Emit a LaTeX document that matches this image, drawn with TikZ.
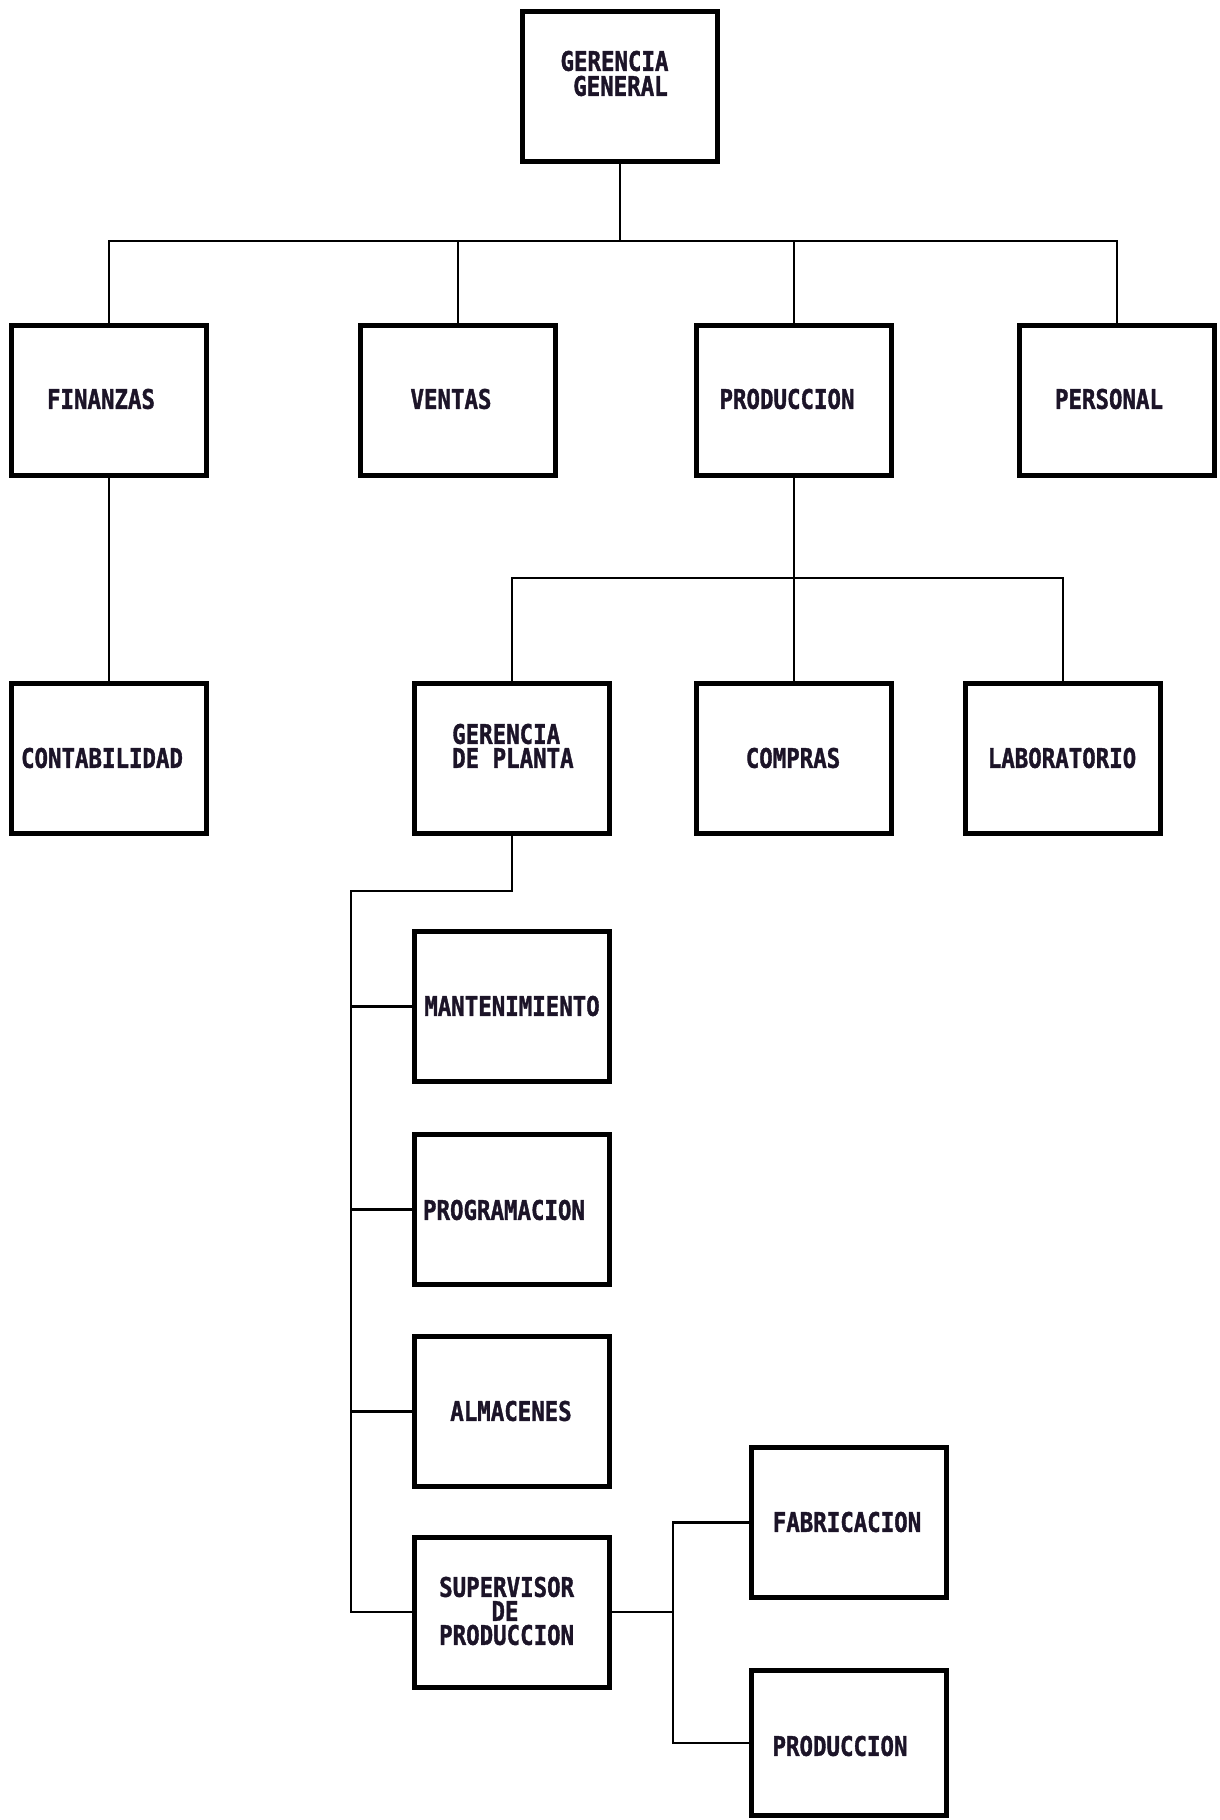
\documentclass[tikz,border=0pt]{standalone}
\usepackage{fontspec}
\newfontfamily\dotfont[FakeStretch=0.83, BoldFeatures={FakeBold=1.3}]{DejaVu Sans Mono}
\begin{document}
\begin{tikzpicture}[x=1pt,y=-1pt,
  box/.style={draw=black, line width=5pt, fill=white, minimum width=195pt,
    minimum height=150pt, inner sep=0pt},
  lbl/.style={font=\dotfont\bfseries\fontsize{27}{27}\selectfont, text=ink,
    inner sep=0pt},
  link/.style={draw=black, line width=2.5pt}]
\definecolor{ink}{HTML}{1C1428}
\useasboundingbox[fill=white] (0,0) rectangle (1220,1820);

% boxes
\node[box] (gg)    at (620,86.5)   {};
\node[box] (fin)   at (109,400)    {};
\node[box] (ven)   at (458,400)    {};
\node[box] (prod)  at (794,400)    {};
\node[box] (pers)  at (1117,400)   {};
\node[box] (cont)  at (109,758.5)  {};
\node[box] (gdp)   at (512,758.5)  {};
\node[box] (comp)  at (794,758.5)  {};
\node[box] (lab)   at (1063,758.5) {};
\node[box] (mant)  at (512,1006.5) {};
\node[box] (prog)  at (512,1209.5) {};
\node[box] (alm)   at (512,1411.5) {};
\node[box] (sup)   at (512,1612)   {};
\node[box] (fab)   at (848.5,1522.5) {};
\node[box, minimum height=145pt] (prodb) at (848.5,1743) {};

% labels
\node[lbl] (tgg1) at (614.5,61) {GERENCIA};
\node[lbl] (tgg2) at (620.5,86) {GENERAL};
\node[lbl] (tfin) at (101,399)  {FINANZAS};
\node[lbl] (tven) at (451,399)  {VENTAS};
\node[lbl] (tpro) at (787,399)  {PRODUCCION};
\node[lbl] (tper) at (1109,399) {PERSONAL};
\node[lbl] (tcon) at (102,758)  {CONTABILIDAD};
\node[lbl, anchor=west] (tgd1) at (452,734) {GERENCIA};
\node[lbl, anchor=west] (tgd2) at (452,758) {DE PLANTA};
\node[lbl] (tcom) at (793,758)  {COMPRAS};
\node[lbl] (tlab) at (1062,758) {LABORATORIO};
\node[lbl] (tman) at (512,1006) {MANTENIMIENTO};
\node[lbl] (tprg) at (504,1210) {PROGRAMACION};
\node[lbl] (talm) at (511,1411) {ALMACENES};
\node[lbl, anchor=west] (tsu1) at (439,1587) {SUPERVISOR};
\node[lbl] (tsu2) at (505,1611) {DE};
\node[lbl, anchor=west] (tsu3) at (439,1635) {PRODUCCION};
\node[lbl] (tfab) at (847,1522) {FABRICACION};
\node[lbl] (tprb) at (840,1746) {PRODUCCION};

% bus levels
\coordinate (topbus) at (0,241);
\coordinate (midbus) at (0,578);
\coordinate (spine)  at (351,891);
\coordinate (fork)   at (673,1612);

% top level
\draw[link] (gg.south) -- (gg.south |- topbus);
\draw[link] (fin.north) -- (fin.north |- topbus) -- (pers.north |- topbus) -- (pers.north);
\draw[link] (ven.north) -- (ven.north |- topbus);
\draw[link] (prod.north) -- (prod.north |- topbus);

% finanzas
\draw[link] (fin.south) -- (cont.north);

% produccion
\draw[link] (prod.south) -- (prod.south |- midbus);
\draw[link] (gdp.north) -- (gdp.north |- midbus) -- (lab.north |- midbus) -- (lab.north);
\draw[link] (comp.north) -- (comp.north |- midbus);

% gerencia de planta
\draw[link] (gdp.south) |- (spine) -- (spine |- sup.west) -- (sup.west);
\draw[link] (spine |- mant.west) -- (mant.west);
\draw[link] (spine |- prog.west) -- (prog.west);
\draw[link] (spine |- alm.west) -- (alm.west);

% supervisor
\draw[link] (sup.east) -- (fork);
\draw[link] (fab.west) -| (fork) |- (prodb.west);
\end{tikzpicture}
\end{document}
